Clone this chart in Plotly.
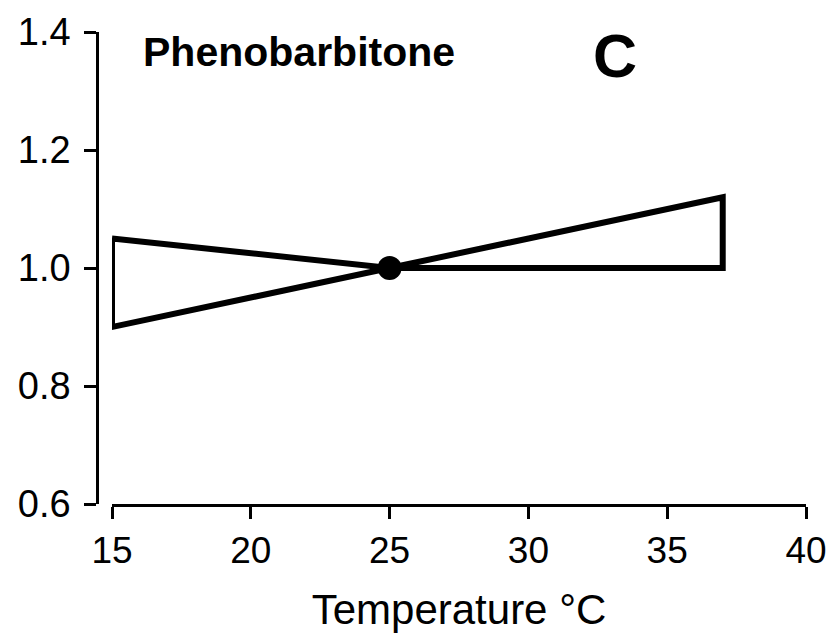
import plotly.graph_objects as go

# Data
outline_x = [15, 25, 37, 37, 25, 15, 15]
outline_y = [1.05, 1.0, 1.0, 1.12, 1.0, 0.90, 1.05]
ref_x = [25]
ref_y = [1.0]
x_ticks = [15, 20, 25, 30, 35, 40]
y_ticks = [0.6, 0.8, 1.0, 1.2, 1.4]
y_tick_labels = ["0.6", "0.8", "1.0", "1.2", "1.4"]

FONT = "Liberation Sans, Arial, Helvetica, sans-serif"

fig = go.Figure()
fig.add_trace(go.Scatter(x=outline_x, y=outline_y, mode="lines",
                         line=dict(color="black", width=6),
                         hoverinfo="skip", showlegend=False))
fig.add_trace(go.Scatter(x=ref_x, y=ref_y, mode="markers",
                         marker=dict(color="black", size=24),
                         showlegend=False))

W, H = 838, 635
ml, mr, mt, mb = 97, 32, 32, 131
pw = W - ml - mr
x_start = (112 - 97) / pw

fig.update_layout(
    width=W, height=H,
    margin=dict(l=ml, r=mr, t=mt, b=mb),
    paper_bgcolor="white", plot_bgcolor="white",
    font=dict(family=FONT, color="black", size=36),
    xaxis=dict(domain=[x_start, 1], range=[15, 40], tickvals=x_ticks,
               showline=True, linecolor="black", linewidth=2.5,
               ticks="outside", ticklen=12, tickwidth=2.5, tickcolor="black",
               showgrid=False, zeroline=False, automargin=False,
               tickfont=dict(size=37, family=FONT),
               title=dict(text="Temperature °C", font=dict(size=42, family=FONT), standoff=25)),
    yaxis=dict(anchor="free", position=0, range=[0.6, 1.4],
               tickvals=y_ticks, ticktext=y_tick_labels,
               showline=True, linecolor="black", linewidth=2.5,
               ticks="outside", ticklen=12, tickwidth=2.5, tickcolor="black",
               showgrid=False, zeroline=False, ticklabelstandoff=6, automargin=False,
               tickfont=dict(size=38, family=FONT)),
    annotations=[
        dict(text="<b>Phenobarbitone</b>", x=16.05, y=1.366, xref="x", yref="y",
             xanchor="left", yanchor="middle", showarrow=False,
             font=dict(size=41, family=FONT, color="black")),
        dict(text="<b>C</b>", x=33.12, y=1.36, xref="x", yref="y",
             xanchor="center", yanchor="middle", showarrow=False,
             font=dict(size=61, family=FONT, color="black")),
    ],
)

fig.write_html("out.html")
